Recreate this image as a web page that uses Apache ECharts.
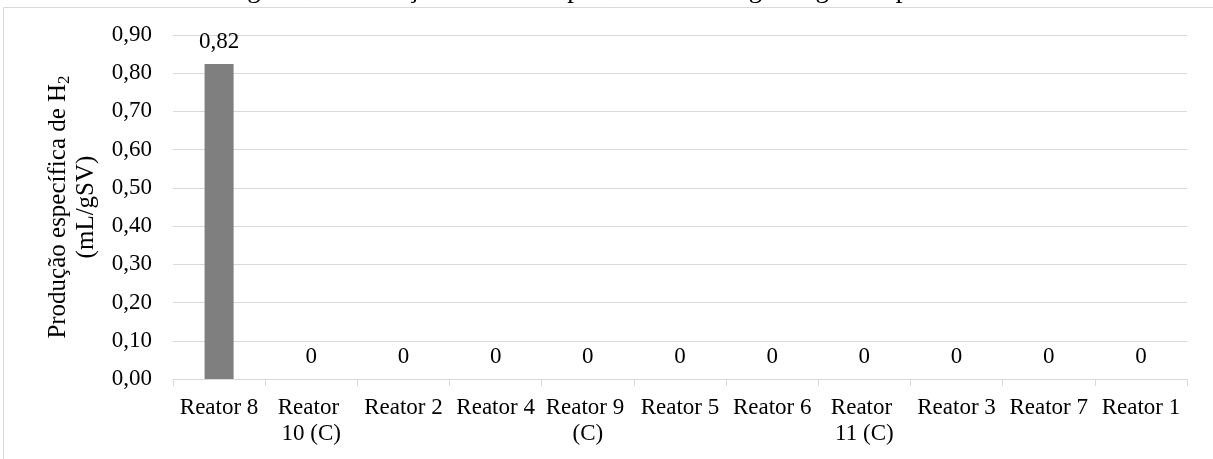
<!DOCTYPE html>
<html>
<head>
<meta charset="utf-8">
<script src="https://cdn.jsdelivr.net/npm/echarts@6/dist/echarts.min.js"></script>
<style>
html,body{margin:0;padding:0;background:#fff;}
#c{width:1213px;height:459px;}
</style>
</head>
<body>
<div id="c"></div>
<script>
const categories = ['Reator 8','Reator 10 (C)','Reator 2','Reator 4','Reator 9 (C)','Reator 5','Reator 6','Reator 11 (C)','Reator 3','Reator 7','Reator 1'];
const values = [0.824, 0, 0, 0, 0, 0, 0, 0, 0, 0, 0];
const yTicks = [0, 0.1, 0.2, 0.3, 0.4, 0.5, 0.6, 0.7, 0.8, 0.9];
const titleText = 'Figura 3 – Produção máxima específica de hidrogênio gasoso por reator';
const yNameLine1 = 'Produção específica de H';
const yNameSub = '2';
const yNameLine2 = '(mL/gSV)';

const FONT = '"Liberation Serif", "Times New Roman", serif';
const chart = echarts.init(document.getElementById('c'), null, {renderer: 'canvas'});
chart.setOption({
  animation: false,
  backgroundColor: '#ffffff',
  textStyle: {fontFamily: FONT},
  graphic: [
    {type: 'rect', shape: {x: 3.5, y: 7.5, width: 1230, height: 470}, style: {fill: 'none', stroke: '#d9d9d9', lineWidth: 1}, silent: true, z: -1},
    {type: 'text', x: 613, y: 3.5, style: {text: titleText, font: '27px ' + FONT, fill: '#000', align: 'center', verticalAlign: 'bottom'}, silent: true}
  ],
  grid: {left: 173, right: 26, top: 35, bottom: 80, containLabel: false},
  xAxis: {
    type: 'category',
    data: categories,
    axisLine: {show: true, lineStyle: {color: '#d9d9d9', width: 1}},
    axisTick: {show: true, alignWithLabel: false, length: 7, lineStyle: {color: '#d9d9d9'}},
    axisLabel: {
      interval: 0, color: '#000', fontFamily: FONT, fontSize: 23, margin: 16,
      lineHeight: 26, width: 90, overflow: 'break'
    },
    splitLine: {show: false}
  },
  yAxis: {
    type: 'value',
    min: 0, max: 0.9, interval: 0.1,
    axisLine: {show: false},
    axisTick: {show: false},
    axisLabel: {
      color: '#000', fontFamily: FONT, fontSize: 23, margin: 21,
      formatter: v => yTicks.reduce((a, t) => Math.abs(t - v) < 1e-9 ? t : a, v).toFixed(2).replace('.', ',')
    },
    splitLine: {show: true, lineStyle: {color: '#d9d9d9', width: 1}},
    name: '{m|' + yNameLine1 + '}{s|' + yNameSub + '}\n{m|' + yNameLine2 + '}',
    nameLocation: 'middle',
    nameGap: 71,
    nameRotate: 90,
    nameTextStyle: {
      color: '#000', fontFamily: FONT, fontSize: 25, lineHeight: 28, align: 'center',
      rich: {
        m: {color: '#000', fontFamily: FONT, fontSize: 25, lineHeight: 28},
        s: {color: '#000', fontFamily: FONT, fontSize: 17, lineHeight: 20, verticalAlign: 'bottom'}
      }
    }
  },
  series: [{
    type: 'bar',
    data: values,
    barWidth: '31.5%',
    itemStyle: {color: '#7f7f7f'},
    label: {
      show: true, position: 'top', distance: 11,
      color: '#000', fontFamily: FONT, fontSize: 23,
      formatter: p => p.value === 0 ? '0' : p.value.toFixed(2).replace('.', ',')
    }
  }]
});
</script>
</body>
</html>
